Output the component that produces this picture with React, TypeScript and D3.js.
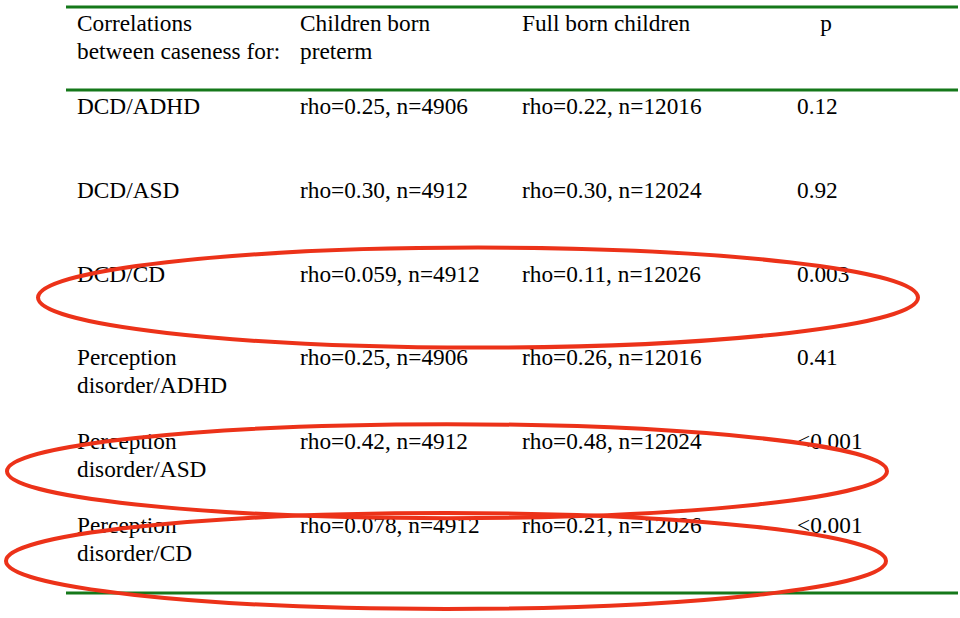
import React, { useEffect, useRef } from 'react'
import * as d3 from 'd3'

// table contents
const headerLines = [
  ['Correlations', 'between caseness for:'],
  ['Children born', 'preterm'],
  ['Full born children'],
  ['p'],
]
const rowLabels = [
  ['DCD/ADHD'],
  ['DCD/ASD'],
  ['DCD/CD'],
  ['Perception', 'disorder/ADHD'],
  ['Perception', 'disorder/ASD'],
  ['Perception', 'disorder/CD'],
]
const pretermValues = [
  'rho=0.25, n=4906',
  'rho=0.30, n=4912',
  'rho=0.059, n=4912',
  'rho=0.25, n=4906',
  'rho=0.42, n=4912',
  'rho=0.078, n=4912',
]
const fullBornValues = [
  'rho=0.22, n=12016',
  'rho=0.30, n=12024',
  'rho=0.11, n=12026',
  'rho=0.26, n=12016',
  'rho=0.48, n=12024',
  'rho=0.21, n=12026',
]
const pValues = ['0.12', '0.92', '0.003', '0.41', '<0.001', '<0.001']
// rows circled in red
const highlighted = [2, 4, 5]

export default function App() {
  const svgRef = useRef<SVGSVGElement>(null)
  const width = 960
  const height = 618

  useEffect(() => {
    const svg = d3.select(svgRef.current)
    svg.selectAll('*').remove()

    const font = '"Liberation Serif", "Times New Roman", serif'
    const fontSize = 23.3
    const lineH = 28
    const green = '#15781a'
    const red = '#ec3219'

    svg.append('rect').attr('width', width).attr('height', height).attr('fill', '#fff')

    const colX = [77, 300, 522, 797]
    const rowY = d3.scaleLinear().domain([0, rowLabels.length - 1]).range([114, 533])

    // rules
    const rules = [7, 90, 593]
    svg.selectAll('line.rule').data(rules).join('line')
      .attr('x1', 66).attr('x2', 958)
      .attr('y1', d => d).attr('y2', d => d)
      .attr('stroke', green).attr('stroke-width', 3)

    const writeCell = (x: number, y: number, lines: string[], anchor = 'start') => {
      const t = svg.append('text')
        .attr('x', x).attr('y', y)
        .attr('font-family', font).attr('font-size', fontSize)
        .attr('fill', '#000').attr('text-anchor', anchor)
      lines.forEach((l, i) => {
        t.append('tspan').attr('x', x).attr('y', y + i * lineH).text(l)
      })
    }

    // header
    headerLines.forEach((lines, c) => {
      if (c === 3) writeCell(826, 31, lines, 'middle')
      else writeCell(colX[c], 31, lines)
    })

    // body
    rowLabels.forEach((lines, i) => {
      const y = rowY(i)
      writeCell(colX[0], y, lines)
      writeCell(colX[1], y, [pretermValues[i]])
      writeCell(colX[2], y, [fullBornValues[i]])
      writeCell(colX[3], y, [pValues[i]])
    })

    // hand drawn ellipses
    const ellipseGeom = [
      { cx: 478, dy: 16, rx: 440, ry: 50 },
      { cx: 447, dy: 22, rx: 440, ry: 47 },
      { cx: 446, dy: 28, rx: 440, ry: 48 },
    ]
    highlighted.forEach((r, k) => {
      const g = ellipseGeom[k]
      svg.append('ellipse')
        .attr('cx', g.cx).attr('cy', rowY(r) + g.dy)
        .attr('rx', g.rx).attr('ry', g.ry)
        .attr('fill', 'none').attr('stroke', red).attr('stroke-width', 4)
    })
  }, [])

  return (
    <div style={{ position: 'absolute', left: 0, top: 0 }}>
      <svg ref={svgRef} width={width} height={height} style={{ display: 'block' }}></svg>
    </div>
  )
}
